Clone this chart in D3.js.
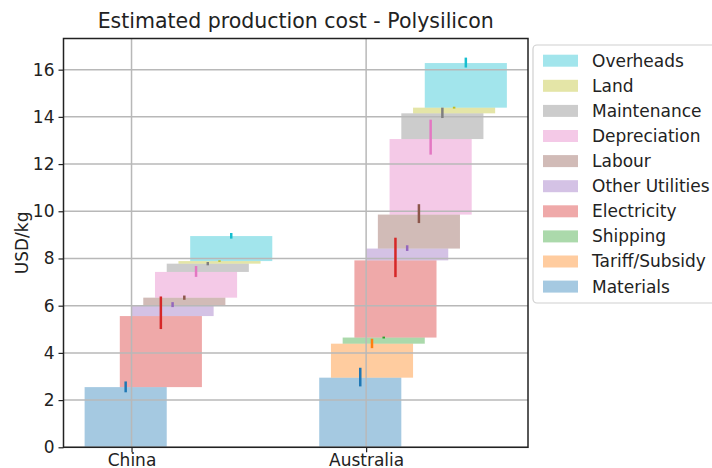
<!DOCTYPE html>
<html>
<head>
<meta charset="utf-8">
<script src="https://cdn.jsdelivr.net/npm/d3@7"></script>
<style>
  html, body { margin: 0; padding: 0; background: #fff; }
  svg { display: block; font-family: "DejaVu Sans", sans-serif; }
</style>
</head>
<body>
<svg id="chart" width="712" height="468"></svg>
<script>
// Cost components, bottom to top of each stack
const series = ["Materials", "Tariff/Subsidy", "Shipping", "Electricity", "Other Utilities",
                "Labour", "Depreciation", "Maintenance", "Land", "Overheads"];
const categories = ["China", "Australia"];

// Cost of each component (USD/kg)
const chinaCost     = [2.55, 0.00, 0.00, 3.01, 0.46, 0.32, 1.09, 0.35, 0.11, 1.06];
const australiaCost = [2.95, 1.44, 0.26, 3.27, 0.50, 1.44, 3.20, 1.09, 0.24, 1.89];

// Uncertainty around the running total (below / above)
const chinaErrLow      = [0.22, 0, 0, 0.55, 0.08, 0.09, 0.21, 0.07, 0.03, 0.11];
const chinaErrHigh     = [0.24, 0, 0, 0.83, 0.13, 0.09, 0.25, 0.07, 0.03, 0.13];
const australiaErrLow  = [0.37, 0.19, 0.04, 0.71, 0.10, 0.36, 0.66, 0.20, 0.04, 0.19];
const australiaErrHigh = [0.42, 0.21, 0.04, 0.96, 0.14, 0.44, 0.82, 0.24, 0.04, 0.23];

const yTicks = [0, 2, 4, 6, 8, 10, 12, 14, 16];

const colors = ["#1f77b4", "#ff7f0e", "#2ca02c", "#d62728", "#9467bd",
                "#8c564b", "#e377c2", "#7f7f7f", "#bcbd22", "#17becf"];

const costs = [chinaCost, australiaCost];
const errLow = [chinaErrLow, australiaErrLow];
const errHigh = [chinaErrHigh, australiaErrHigh];

// Bar geometry in category units: each component steps right
const barStart = -0.2, barStep = 0.05, barWidth = 0.35;

const svg = d3.select("#chart");
const plot = { left: 63.5, right: 528, top: 38.5, bottom: 447.3 };

const x = d3.scaleLinear().domain([-0.29, 1.69]).range([plot.left, plot.right]);
const y = d3.scaleLinear().domain([0, 17.32]).range([plot.bottom, plot.top]);

// Build the floating segments
const segs = [];
costs.forEach((vals, ci) => {
  let base = 0;
  vals.forEach((v, si) => {
    const x0 = ci + barStart + barStep * si;
    segs.push({ ci, si, x0, x1: x0 + barWidth, y0: base, y1: base + v,
                lo: base + v - errLow[ci][si], hi: base + v + errHigh[ci][si] });
    base += v;
  });
});

// Bars
svg.append("g").selectAll("rect").data(segs.filter(d => d.y1 > d.y0)).join("rect")
  .attr("x", d => x(d.x0))
  .attr("width", d => x(d.x1) - x(d.x0))
  .attr("y", d => y(d.y1))
  .attr("height", d => y(d.y0) - y(d.y1))
  .attr("fill", d => colors[d.si])
  .attr("fill-opacity", 0.4);

// Grid
const grid = svg.append("g").attr("stroke", "#b8b8b8").attr("stroke-width", 1.5);
grid.selectAll("line.h").data(yTicks).join("line").attr("class", "h")
  .attr("x1", plot.left).attr("x2", plot.right)
  .attr("y1", d => y(d)).attr("y2", d => y(d));
grid.selectAll("line.v").data(categories).join("line").attr("class", "v")
  .attr("x1", (d, i) => x(i)).attr("x2", (d, i) => x(i))
  .attr("y1", plot.top).attr("y2", plot.bottom);

// Error bars
svg.append("g").selectAll("line").data(segs.filter(d => d.hi > d.lo)).join("line")
  .attr("x1", d => x((d.x0 + d.x1) / 2))
  .attr("x2", d => x((d.x0 + d.x1) / 2))
  .attr("y1", d => y(d.lo))
  .attr("y2", d => y(d.hi))
  .attr("stroke", d => colors[d.si])
  .attr("stroke-width", 2.5);

// Axes
const yAxis = d3.axisLeft(y).tickValues(yTicks).tickSize(5).tickPadding(4).tickFormat(d3.format("d"));
const xAxis = d3.axisBottom(x).tickValues([0, 1]).tickSize(5).tickPadding(2)
  .tickFormat(i => categories[i]);

const gy = svg.append("g").attr("transform", `translate(${plot.left},0)`).call(yAxis);
const gx = svg.append("g").attr("transform", `translate(0,${plot.bottom})`).call(xAxis);
[gy, gx].forEach(g => {
  g.select(".domain").remove();
  g.selectAll(".tick line").attr("stroke", "#222").attr("stroke-width", 1.2);
  g.selectAll(".tick text").attr("fill", "#222").style("font-size", "17px")
    .style("font-family", "DejaVu Sans, sans-serif");
});

// Frame
svg.append("rect")
  .attr("x", plot.left).attr("y", plot.top)
  .attr("width", plot.right - plot.left).attr("height", plot.bottom - plot.top)
  .attr("fill", "none").attr("stroke", "#222").attr("stroke-width", 1.5);

// Title and axis label
svg.append("text")
  .attr("x", (plot.left + plot.right) / 2).attr("y", 28)
  .attr("text-anchor", "middle").attr("fill", "#222")
  .style("font-size", "20.5px")
  .text("Estimated production cost - Polysilicon");

svg.append("text")
  .attr("transform", `translate(28,${(plot.top + plot.bottom) / 2}) rotate(-90)`)
  .attr("text-anchor", "middle").attr("fill", "#222")
  .style("font-size", "17px")
  .text("USD/kg");

// Legend, top entry is the last component
const legend = svg.append("g");
legend.append("rect")
  .attr("x", 533).attr("y", 45).attr("width", 190).attr("height", 258)
  .attr("rx", 4).attr("fill", "#fff").attr("stroke", "#d0d0d0").attr("stroke-width", 1.2);
const order = series.map((s, i) => i).reverse();
const items = legend.selectAll("g.item").data(order).join("g").attr("class", "item")
  .attr("transform", (d, k) => `translate(0,${60.7 + 25.1 * k})`);
items.append("rect")
  .attr("x", 543).attr("y", -6).attr("width", 35).attr("height", 12)
  .attr("fill", d => colors[d]).attr("fill-opacity", 0.4);
items.append("text")
  .attr("x", 592).attr("y", 0).attr("dy", "0.35em").attr("fill", "#222")
  .style("font-size", "17px")
  .text(d => series[d]);
</script>
</body>
</html>
